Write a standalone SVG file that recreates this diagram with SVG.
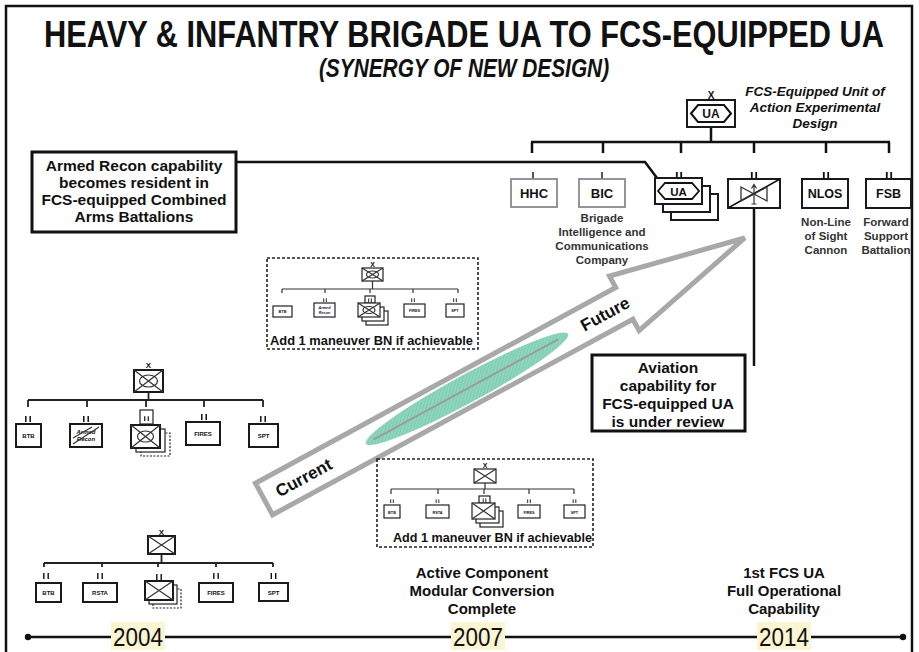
<svg xmlns="http://www.w3.org/2000/svg" width="919" height="652" viewBox="0 0 919 652">
<defs>
<style>
text{font-family:"Liberation Sans",Arial,sans-serif;fill:#111}
.b{font-weight:bold}
.c{text-anchor:middle}
.box{fill:#fff;stroke:#1a1a1a;stroke-width:2}
.gbox{fill:#fff;stroke:#8a8a8a;stroke-width:1.8}
.sbox{fill:#fff;stroke:#222;stroke-width:1.2}
.ln{stroke:#111;stroke-width:2.5;fill:none}
.mln{stroke:#222;stroke-width:1.8;fill:none}
.tln{stroke:#333;stroke-width:1.2;fill:none}
.dash{fill:none;stroke:#222;stroke-width:1.6;stroke-dasharray:3 2}
.ddash{fill:#fff;stroke:#222;stroke-width:1.2;stroke-dasharray:2 1.5}
.lbl{font-weight:bold;font-size:11.5px;text-anchor:middle;fill:#333}
.tiny{font-weight:bold;font-size:6px;text-anchor:middle}
.mini{font-weight:bold;font-size:3.8px;text-anchor:middle}
.note{font-weight:bold;font-size:15.5px;text-anchor:middle}
.yr{font-size:25px;text-anchor:middle}
.ybg{fill:#fbf5d2}
</style>
<g id="ii"><line x1="-2.2" y1="-6" x2="-2.2" y2="0"/><line x1="2.2" y1="-6" x2="2.2" y2="0"/></g>
<pattern id="hatch" width="3" height="3" patternUnits="userSpaceOnUse" patternTransform="rotate(45)">
<rect width="3" height="3" fill="#8fd5bd"/><line x1="0" y1="0" x2="0" y2="3" stroke="#6cc5a6" stroke-width="1"/>
</pattern>
</defs>

<rect x="6" y="6" width="906" height="700" fill="none" stroke="#111" stroke-width="2.5"/>

<g id="title">
<text transform="translate(464,47) scale(0.832,1)" class="b c" font-size="37">HEAVY &amp; INFANTRY BRIGADE UA TO FCS-EQUIPPED UA</text>
<text transform="translate(464,77) scale(0.834,1)" class="b c" font-size="25" font-style="italic">(SYNERGY OF NEW DESIGN)</text>
</g>

<!-- progress arrow -->
<g id="arrow" transform="translate(264,499) rotate(-28.5)">
<polygon points="0,-18 410,-18 410,-31 547,0 410,31 410,18 0,18" fill="#fff" stroke="#a8a8a8" stroke-width="5"/>
<ellipse cx="231" cy="0" rx="115" ry="14" fill="url(#hatch)"/>
<line x1="125" y1="0" x2="335" y2="0" stroke="#9c9c9c" stroke-width="2"/>
<text x="45" y="6" class="b c" font-size="17" fill="#222">Current</text>
<text x="388" y="6" class="b c" font-size="17" fill="#222">Future</text>
</g>

<g id="connectors">
<line x1="711" y1="127" x2="711" y2="142" class="ln"/>
<line x1="531" y1="142" x2="890" y2="142" class="ln"/>
<path d="M532 142V153M603 142V153M681 142V153M754 142V153M826 142V153M889 142V153" class="ln"/>
<polyline points="236,162 645,162 657,178" class="ln"/>
<line x1="754" y1="208" x2="754" y2="366" class="ln"/>
<!-- middle-left chart -->
<line x1="148.5" y1="392" x2="148.5" y2="400" class="mln"/>
<line x1="28" y1="400" x2="263" y2="400" class="mln"/>
<path d="M28 400V407M87 400V407M146 400V407M204 400V407M263 400V407" class="mln"/>
<!-- top dashed chart -->
<line x1="372.5" y1="281" x2="372.5" y2="289" class="tln"/>
<line x1="282" y1="289" x2="458" y2="289" class="tln"/>
<path d="M282 289V293M325 289V293M370 289V293M413 289V293M458 289V293" class="tln"/>
<!-- bottom dashed chart -->
<line x1="485" y1="483" x2="485" y2="489" class="tln"/>
<line x1="391" y1="489" x2="574" y2="489" class="tln"/>
<path d="M391 489V494M438 489V494M484 489V494M529 489V494M574 489V494" class="tln"/>
<!-- bottom-left chart -->
<line x1="161.5" y1="554" x2="161.5" y2="563" class="mln"/>
<line x1="44" y1="563" x2="273" y2="563" class="mln"/>
<path d="M44 563V567M102 563V567M158 563V567M216 563V567M273 563V567" class="mln"/>
<!-- timeline -->
<line x1="28" y1="637" x2="903" y2="637" stroke="#111" stroke-width="2.5"/>
<circle cx="28" cy="637" r="3.2" fill="#111"/>
<circle cx="903" cy="637" r="3.2" fill="#111"/>
</g>

<!-- top-right FCS UA org -->
<g id="fcs-ua">
<text x="711" y="99" class="b c" font-size="10">X</text>
<rect x="687" y="100" width="48" height="27" class="box" stroke-width="2.5"/>
<polygon points="691,113.5 698,105 724,105 731,113.5 724,122 698,122" fill="none" stroke="#111" stroke-width="2"/>
<text x="711" y="118" class="b c" font-size="12">UA</text>
<text x="815" y="96" class="b c" font-size="13.5" font-style="italic">FCS-Equipped Unit of</text>
<text x="815" y="112" class="b c" font-size="13.5" font-style="italic">Action Experimental</text>
<text x="815" y="128" class="b c" font-size="13.5" font-style="italic">Design</text>
</g>
<g id="hhc">
<line x1="533" y1="172" x2="533" y2="179" stroke="#555" stroke-width="2"/>
<rect x="511" y="179" width="46" height="28" class="gbox"/>
<text x="534" y="198" class="b c" font-size="13">HHC</text>
</g>
<g id="bic">
<line x1="602" y1="172" x2="602" y2="179" stroke="#555" stroke-width="2"/>
<rect x="579" y="179" width="46" height="28" class="gbox"/>
<text x="602" y="198" class="b c" font-size="13">BIC</text>
<text x="602" y="222" class="lbl">Brigade</text>
<text x="602" y="236" class="lbl">Intelligence and</text>
<text x="602" y="250" class="lbl">Communications</text>
<text x="602" y="264" class="lbl">Company</text>
</g>
<g id="ua-bn">
<use href="#ii" x="679" y="178" stroke="#111" stroke-width="1.8"/>
<rect x="671" y="194" width="47" height="26" class="box"/>
<rect x="663" y="186" width="47" height="26" class="box"/>
<rect x="655" y="178" width="47" height="26" class="box"/>
<polygon points="658,191 665,183 692,183 699,191 692,199 665,199" fill="none" stroke="#111" stroke-width="1.8"/>
<text x="678.5" y="195.5" class="b c" font-size="11.5">UA</text>
</g>
<g id="aviation">
<use href="#ii" x="754" y="178" stroke="#111" stroke-width="1.8"/>
<rect x="728" y="179" width="52" height="29" class="box"/>
<line x1="728" y1="208" x2="780" y2="179" stroke="#111" stroke-width="1.5"/>
<polygon points="741,187 741,201 754,194" fill="none" stroke="#333" stroke-width="1.3"/>
<polygon points="767,187 767,201 754,194" fill="none" stroke="#333" stroke-width="1.3"/>
<path d="M754 185V204M751.5 188.5L754 184.5L756.5 188.5M751.5 204H756.5" fill="none" stroke="#333" stroke-width="1.2"/>
</g>
<g id="nlos">
<use href="#ii" x="826" y="178" stroke="#111" stroke-width="1.8"/>
<rect x="802" y="179" width="46" height="29" class="box"/>
<text x="825" y="198" class="b c" font-size="12.5">NLOS</text>
<text x="826" y="226" class="lbl">Non-Line</text>
<text x="826" y="240" class="lbl">of Sight</text>
<text x="826" y="254" class="lbl">Cannon</text>
</g>
<g id="fsb">
<use href="#ii" x="889" y="178" stroke="#111" stroke-width="1.8"/>
<rect x="866" y="179" width="45" height="29" class="box"/>
<text x="888.5" y="198" class="b c" font-size="12.5">FSB</text>
<text x="886" y="226" class="lbl" font-size="10.5">Forward</text>
<text x="886" y="240" class="lbl" font-size="10.5">Support</text>
<text x="886" y="254" class="lbl" font-size="10.5">Battalion</text>
</g>

<g id="note-recon">
<rect x="32" y="152" width="204" height="80" fill="#fff" stroke="#111" stroke-width="3"/>
<text x="134" y="171" class="note">Armed Recon capability</text>
<text x="134" y="188" class="note">becomes resident in</text>
<text x="134" y="205" class="note">FCS-equipped Combined</text>
<text x="134" y="222" class="note">Arms Battalions</text>
</g>

<g id="note-aviation">
<rect x="592" y="355" width="153" height="76" fill="#fff" stroke="#111" stroke-width="3"/>
<text x="668" y="373" class="note">Aviation</text>
<text x="668" y="391" class="note">capability for</text>
<text x="668" y="409" class="note">FCS-equipped UA</text>
<text x="668" y="427" class="note">is under review</text>
</g>

<!-- middle-left current heavy brigade chart -->
<g id="hbct-hq">
<text x="148.5" y="368" class="b c" font-size="8">X</text>
<rect x="134" y="370" width="29" height="22" class="box"/>
<path d="M134 370L163 392M163 370L134 392" class="tln"/>
<ellipse cx="148.5" cy="381" rx="9" ry="6" class="tln"/>
</g>
<g id="hbct-btb">
<use href="#ii" x="28" y="422" stroke="#111" stroke-width="1.5"/>
<rect x="16" y="424" width="25" height="23" class="box"/>
<text x="28.5" y="438" class="tiny">BTB</text>
</g>
<g id="hbct-recon">
<use href="#ii" x="86" y="422" stroke="#111" stroke-width="1.5"/>
<rect x="70" y="424" width="32" height="23" class="box"/>
<text x="86" y="434" class="tiny" font-style="italic" font-size="5.5">Armed</text>
<text x="86" y="441" class="tiny" font-style="italic" font-size="5.5">Recon</text>
<path d="M73 444L99 427M73 438L92 427" class="tln" stroke-width="0.8"/>
</g>
<g id="hbct-cab">
<rect x="140" y="410" width="13" height="14" class="sbox"/>
<use href="#ii" transform="translate(146.5,421) scale(0.8)" stroke="#111" stroke-width="1.5"/>
<rect x="141" y="433" width="29" height="23" class="ddash"/>
<rect x="136" y="429" width="29" height="23" class="sbox"/>
<rect x="131" y="425" width="29" height="23" class="box"/>
<path d="M131 425L160 448M160 425L131 448" class="tln"/>
<ellipse cx="145.5" cy="436.5" rx="8" ry="5.5" class="tln"/>
</g>
<g id="hbct-fires">
<use href="#ii" x="204" y="420" stroke="#111" stroke-width="1.5"/>
<rect x="186" y="422" width="34" height="23" class="box"/>
<text x="203" y="436" class="tiny">FIRES</text>
</g>
<g id="hbct-spt">
<use href="#ii" x="263" y="422" stroke="#111" stroke-width="1.5"/>
<rect x="249" y="424" width="29" height="23" class="box"/>
<text x="263.5" y="438" class="tiny">SPT</text>
</g>

<!-- top dashed chart -->
<g id="mod-heavy">
<rect x="267" y="258" width="211" height="91" class="dash"/>
<text x="372.5" y="267" class="b c" font-size="7">X</text>
<rect x="362" y="268" width="21" height="13" class="sbox"/>
<path d="M362 268L383 281M383 268L362 281" class="tln" stroke-width="0.9"/>
<ellipse cx="372.5" cy="274.5" rx="6" ry="3.5" class="tln" stroke-width="0.9"/>
<rect x="273" y="306" width="19" height="11" class="sbox"/>
<text x="282.5" y="313" class="mini">BTB</text>
<use href="#ii" transform="translate(325,302) scale(0.6)" stroke="#111" stroke-width="1.5"/>
<rect x="314" y="303" width="21" height="14" class="sbox"/>
<text x="324.5" y="309" class="mini" font-style="italic">Armed</text>
<text x="324.5" y="314" class="mini" font-style="italic">Recon</text>
<rect x="365" y="296" width="10" height="7" class="sbox"/>
<use href="#ii" transform="translate(370,302) scale(0.6)" stroke="#111" stroke-width="1.5"/>
<rect x="366" y="311" width="22" height="14" class="sbox"/>
<rect x="362" y="307" width="22" height="14" class="sbox"/>
<rect x="358" y="303" width="22" height="14" class="sbox"/>
<path d="M358 303L380 317M380 303L358 317" class="tln" stroke-width="0.9"/>
<ellipse cx="369" cy="310" rx="6" ry="3.5" class="tln" stroke-width="0.9"/>
<use href="#ii" transform="translate(413,302) scale(0.6)" stroke="#111" stroke-width="1.5"/>
<rect x="404" y="304" width="21" height="13" class="sbox"/>
<text x="414.5" y="312" class="mini">FIRES</text>
<use href="#ii" transform="translate(455,302) scale(0.6)" stroke="#111" stroke-width="1.5"/>
<rect x="446" y="304" width="18" height="13" class="sbox"/>
<text x="455" y="312" class="mini">SPT</text>
<text x="270" y="345" class="b" font-size="13" textLength="203" lengthAdjust="spacingAndGlyphs">Add 1 maneuver BN if achievable</text>
</g>

<!-- bottom dashed chart -->
<g id="mod-infantry">
<rect x="377" y="459" width="216" height="88" class="dash"/>
<text x="485" y="468" class="b c" font-size="7">X</text>
<rect x="474" y="469" width="22" height="14" class="sbox"/>
<path d="M474 469L496 483M496 469L474 483" class="tln" stroke-width="0.9"/>
<use href="#ii" transform="translate(392,503) scale(0.6)" stroke="#111" stroke-width="1.5"/>
<rect x="384" y="505" width="16" height="13" class="sbox"/>
<text x="392" y="513.5" class="mini">BTB</text>
<use href="#ii" transform="translate(437.5,503) scale(0.6)" stroke="#111" stroke-width="1.5"/>
<rect x="426" y="505" width="23" height="13" class="sbox"/>
<text x="437.5" y="513.5" class="mini">RSTA</text>
<rect x="479" y="496" width="11" height="7" class="sbox"/>
<use href="#ii" transform="translate(484.5,502) scale(0.6)" stroke="#111" stroke-width="1.5"/>
<rect x="480" y="511" width="23" height="16" class="sbox"/>
<rect x="476" y="507" width="23" height="16" class="sbox"/>
<rect x="472" y="503" width="23" height="16" class="sbox"/>
<path d="M472 503L495 519M495 503L472 519" class="tln" stroke-width="0.9"/>
<use href="#ii" transform="translate(529,503) scale(0.6)" stroke="#111" stroke-width="1.5"/>
<rect x="518" y="505" width="22" height="13" class="sbox"/>
<text x="529" y="513.5" class="mini">FIRES</text>
<use href="#ii" transform="translate(574.5,503) scale(0.6)" stroke="#111" stroke-width="1.5"/>
<rect x="564" y="505" width="21" height="13" class="sbox"/>
<text x="574.5" y="513.5" class="mini">SPT</text>
<text x="393" y="542" class="b" font-size="13" textLength="199" lengthAdjust="spacingAndGlyphs">Add 1 maneuver BN if achievable</text>
</g>

<!-- bottom-left current infantry brigade chart -->
<g id="ibct-hq">
<text x="161.5" y="535" class="b c" font-size="8">X</text>
<rect x="148" y="536" width="27" height="18" class="box"/>
<path d="M148 536L175 554M175 536L148 554" class="tln"/>
</g>
<g id="ibct-btb">
<use href="#ii" x="46" y="579" stroke="#111" stroke-width="1.4"/>
<rect x="36" y="583" width="25" height="19" class="box"/>
<text x="48.5" y="595" class="tiny">BTB</text>
</g>
<g id="ibct-rsta">
<use href="#ii" x="100" y="579" stroke="#111" stroke-width="1.4"/>
<rect x="83" y="583" width="34" height="19" class="box"/>
<text x="100" y="595" class="tiny">RSTA</text>
</g>
<g id="ibct-inf">
<rect x="153" y="589" width="28" height="19" class="ddash"/>
<rect x="149" y="585" width="28" height="19" class="sbox"/>
<use href="#ii" x="159" y="580" stroke="#111" stroke-width="1.4"/>
<rect x="145" y="581" width="28" height="19" class="box"/>
<path d="M145 581L173 600M173 581L145 600" class="tln"/>
</g>
<g id="ibct-fires">
<use href="#ii" x="216" y="579" stroke="#111" stroke-width="1.4"/>
<rect x="199" y="583" width="34" height="19" class="box"/>
<text x="216" y="595" class="tiny">FIRES</text>
</g>
<g id="ibct-spt">
<use href="#ii" x="273.5" y="579" stroke="#111" stroke-width="1.4"/>
<rect x="259" y="583" width="29" height="18" class="box"/>
<text x="273.5" y="594.5" class="tiny">SPT</text>
</g>

<!-- timeline labels -->
<g id="milestones">
<text x="482" y="578" class="b c" font-size="15">Active Component</text>
<text x="482" y="596" class="b c" font-size="15">Modular Conversion</text>
<text x="482" y="614" class="b c" font-size="15">Complete</text>
<text x="784" y="578" class="b c" font-size="15">1st FCS UA</text>
<text x="784" y="596" class="b c" font-size="15">Full Operational</text>
<text x="784" y="614" class="b c" font-size="15">Capability</text>
</g>
<g id="years">
<rect x="111" y="622" width="54" height="28" class="ybg"/>
<rect x="451" y="622" width="54" height="28" class="ybg"/>
<rect x="757" y="622" width="54" height="28" class="ybg"/>
<text x="138" y="646" class="yr" textLength="50" lengthAdjust="spacingAndGlyphs">2004</text>
<text x="478" y="646" class="yr" textLength="50" lengthAdjust="spacingAndGlyphs">2007</text>
<text x="784" y="646" class="yr" textLength="50" lengthAdjust="spacingAndGlyphs">2014</text>
</g>
</svg>
